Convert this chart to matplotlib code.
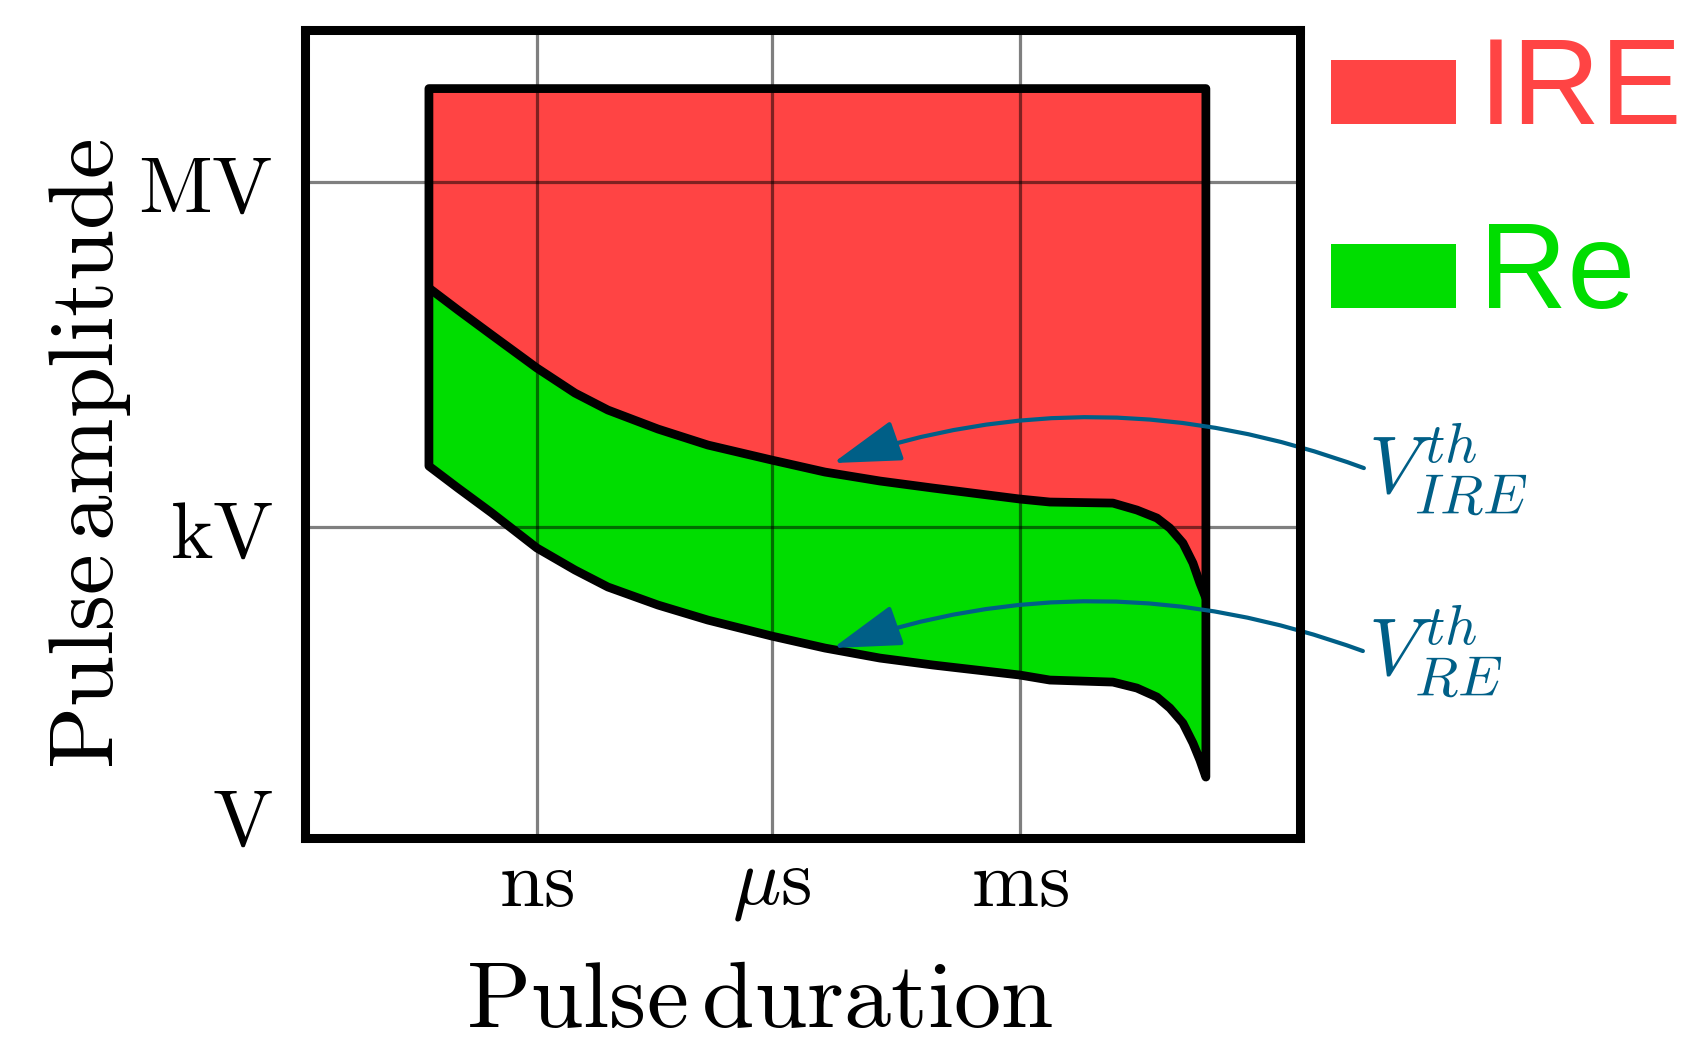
import matplotlib
matplotlib.use('Agg')
import matplotlib.pyplot as plt
from matplotlib.patches import Rectangle, Polygon

plt.rcParams['mathtext.fontset'] = 'cm'

# schematic axis units (0..100 on both axes)
x_ticks = [23.32, 46.93, 71.86]
x_ticklabels = [r'$\mathrm{ns}$', r'$\mu\mathrm{s}$', r'$\mathrm{ms}$']
y_ticks = [2.84, 38.47, 81.14]
y_ticklabels = [r'$\mathrm{V}$', r'$\mathrm{kV}$', r'$\mathrm{MV}$']

# pulse duration samples shared by both threshold curves
duration = [12.46, 15.38, 18.79, 23.32, 27.14, 30.45, 35.48, 40.50, 46.93,
            52.26, 57.79, 63.12, 71.86, 74.87, 81.21, 83.62, 85.63, 86.93,
            88.24, 89.25, 89.95, 90.55]
v_ire = [68.03, 65.31, 62.21, 58.13, 55.04, 52.94, 50.59, 48.61, 46.75,
         45.27, 44.16, 43.29, 41.93, 41.56, 41.43, 40.57, 39.58, 38.34,
         36.49, 34.01, 31.54, 29.68]
v_re = [46.01, 43.29, 40.20, 35.87, 33.15, 31.05, 28.82, 26.96, 24.98,
        23.50, 22.26, 21.40, 20.16, 19.54, 19.29, 18.55, 17.44, 16.08,
        14.22, 11.75, 9.65, 7.54]
v_top = 92.70

# arrow tips (on curves) and starts (next to labels)
ire_tip, ire_start = (53.07, 46.38), (106.43, 45.76)
re_tip, re_start = (53.07, 23.50), (106.33, 23.13)

legend_labels = ['IRE', 'Re']
red = '#ff4444'
green = '#00dd00'
blue = '#005f87'
legend_colors = [red, green]

fig = plt.figure(figsize=(16.97, 10.6), dpi=100)
ax = fig.add_axes([0.1797, 0.2094, 0.5863, 0.7627])
ax.set_xlim(0, 100)
ax.set_ylim(0, 100)

# regions
ax.fill_between(duration, v_ire, v_top, color=red, lw=0, zorder=1)
ax.fill_between(duration, v_re, v_ire, color=green, lw=0, zorder=1)

# grid (no line for V)
for xv in x_ticks:
    ax.axvline(xv, color='k', alpha=0.5, lw=2.3, zorder=2)
for yv in y_ticks[1:]:
    ax.axhline(yv, color='k', alpha=0.5, lw=2.3, zorder=2)

# outlines
ox = [duration[0], duration[-1]] + duration[::-1]
oy = [v_top, v_top] + v_re[::-1]
ax.add_patch(Polygon(list(zip(ox, oy)), closed=True, fill=False, ec='k',
                     lw=6.3, joinstyle='round', zorder=3))
ax.plot(duration, v_ire, color='k', lw=6.3, solid_capstyle='butt',
        solid_joinstyle='round', zorder=3)

# threshold annotations
for tip, start, lab, ty in [(ire_tip, ire_start, r'$V^{th}_{IRE}$', 42.6),
                            (re_tip, re_start, r'$V^{th}_{RE}$', 20.0)]:
    ax.annotate('', xy=tip, xytext=start, annotation_clip=False,
                arrowprops=dict(arrowstyle='-|>,head_length=0.85,head_width=0.26',
                                connectionstyle='arc3,rad=0.18', color=blue,
                                lw=3, shrinkA=0, shrinkB=0, mutation_scale=50),
                zorder=4)
    ax.text(106.8, ty, lab, color=blue, fontsize=58, ha='left', va='baseline',
            clip_on=False)

ax.set_xticks(x_ticks)
ax.set_xticklabels(x_ticklabels)
ax.set_yticks(y_ticks)
ax.set_yticklabels(y_ticklabels)
ax.tick_params(axis='x', length=0, pad=5, labelsize=58)
ax.tick_params(axis='y', length=0, pad=23, labelsize=58)

for sp in ax.spines.values():
    sp.set_linewidth(6.5)
    sp.set_zorder(5)

ax.set_xlabel(r'$\mathrm{Pulse\,duration}$', fontsize=68, va='top')
ax.xaxis.set_label_coords(0.457, -0.145)
ax.set_ylabel(r'$\mathrm{Pulse\,amplitude}$', fontsize=66)
ax.yaxis.set_label_coords(-0.173, 0.475)

# legend
for i, (lab, col) in enumerate(zip(legend_labels, legend_colors)):
    y0 = [0.883, 0.7094][i]
    fig.add_artist(Rectangle((0.7843, y0), 0.0737, 0.0604,
                             transform=fig.transFigure, color=col, lw=0))
    fig.text(0.8716, y0, lab, color=col, fontsize=88, family='Liberation Sans',
             ha='left', va='baseline')

fig.savefig('out.png', dpi=100)
